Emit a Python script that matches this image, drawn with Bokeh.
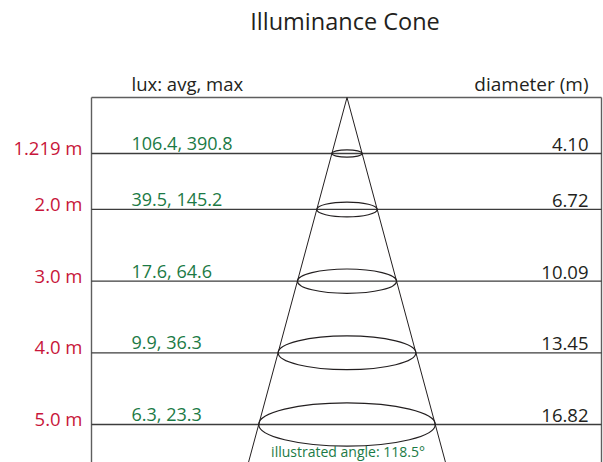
from bokeh.plotting import figure
from bokeh.models import Range1d
from bokeh.core.properties import value
from bokeh.embed import file_html
from bokeh.resources import INLINE

# ---- data ----
title = "Illuminance Cone"
heights = [1.219, 2.0, 3.0, 4.0, 5.0]          # mounting distance (m)
lux_avg = [106.4, 39.5, 17.6, 9.9, 6.3]
lux_max = [390.8, 145.2, 64.6, 36.3, 23.3]
diameters = [4.10, 6.72, 10.09, 13.45, 16.82]  # beam diameter (m)
beam_angle = 118.5
left_header = "lux: avg, max"
right_header = "diameter (m)"

height_labels = [f"{h} m" for h in heights]
lux_labels = [f"{a:.1f}, {m:.1f}" for a, m in zip(lux_avg, lux_max)]
diam_labels = [f"{d:.2f}" for d in diameters]

# ---- layout constants ----
W, H = 603, 462
PX_PER_M = 71.67        # vertical drawing scale
H_TOP = 0.438           # apex / top of the box, in metres of the drawing
SLOPE = 19.35           # half-width of illustrated cone, px per metre
CX = 346.5              # cone axis (px)
BOX_L, BOX_R = 91, 601
FONT = value("Open Sans")
RED, GREEN, INK = "#c8163a", "#1b7a45", "#231f20"


def ref_y(py):
    return heights[0] + (py - 153) / PX_PER_M


p = figure(width=W, height=H, output_backend="svg", toolbar_location=None,
           x_range=Range1d(0, W), y_range=Range1d(ref_y(H), ref_y(0)),
           x_axis_location=None, y_axis_location=None, min_border=0,
           outline_line_color=None, background_fill_color="white")
p.grid.visible = False

bottom = ref_y(470)

# box
p.segment(x0=[BOX_L, BOX_L, BOX_R], y0=[H_TOP, H_TOP, H_TOP],
          x1=[BOX_R, BOX_L, BOX_R], y1=[H_TOP, bottom, bottom],
          line_color="#5e5e5e", line_width=1.4)
# row lines
p.segment(x0=BOX_L, y0=heights, x1=BOX_R, y1=heights,
          line_color="#3c3c3c", line_width=1.3)

# cone
p.segment(x0=[CX, CX], y0=[H_TOP, H_TOP],
          x1=[CX - SLOPE * (bottom - H_TOP), CX + SLOPE * (bottom - H_TOP)],
          y1=[bottom, bottom], line_color=INK, line_width=1)
widths = [2 * SLOPE * (h - H_TOP) for h in heights]
ell_h = [w * 0.245 / PX_PER_M for w in widths]
p.ellipse(x=CX, y=heights, width=widths, height=ell_h,
          fill_color=None, line_color=INK, line_width=1.2)

# texts (y positions are visual centres)
p.text(x=[344.5], y=[H_TOP], text=[title], y_offset=20.5 - 97,
       text_font=FONT, text_font_size="23.5px", text_color=INK,
       text_align="center", text_baseline="middle")
p.text(x=[131], y=[H_TOP], text=[left_header], y_offset=-14,
       text_font=FONT, text_font_size="18.5px", text_color=INK,
       text_align="left", text_baseline="middle")
p.text(x=[588], y=[H_TOP], text=[right_header], y_offset=-14,
       text_font=FONT, text_font_size="19px", text_color=INK,
       text_align="right", text_baseline="middle")

p.text(x=82, y=heights, text=height_labels, y_offset=-6,
       text_font=FONT, text_font_size="18.5px", text_color=RED,
       text_align="right", text_baseline="middle")
p.text(x=131, y=heights, text=lux_labels, y_offset=-10.5,
       text_font=FONT, text_font_size="18px", text_color=GREEN,
       text_align="left", text_baseline="middle")
p.text(x=588, y=heights, text=diam_labels, y_offset=-9,
       text_font=FONT, text_font_size="18.5px", text_color=INK,
       text_align="right", text_baseline="middle")

p.text(x=[347.5], y=[ref_y(451)], text=[f"illustrated angle: {beam_angle}\u00b0"],
       text_font=FONT, text_font_size="14px", text_color=GREEN,
       text_align="center", text_baseline="middle")

open("out.html", "w").write(file_html(p, INLINE))
